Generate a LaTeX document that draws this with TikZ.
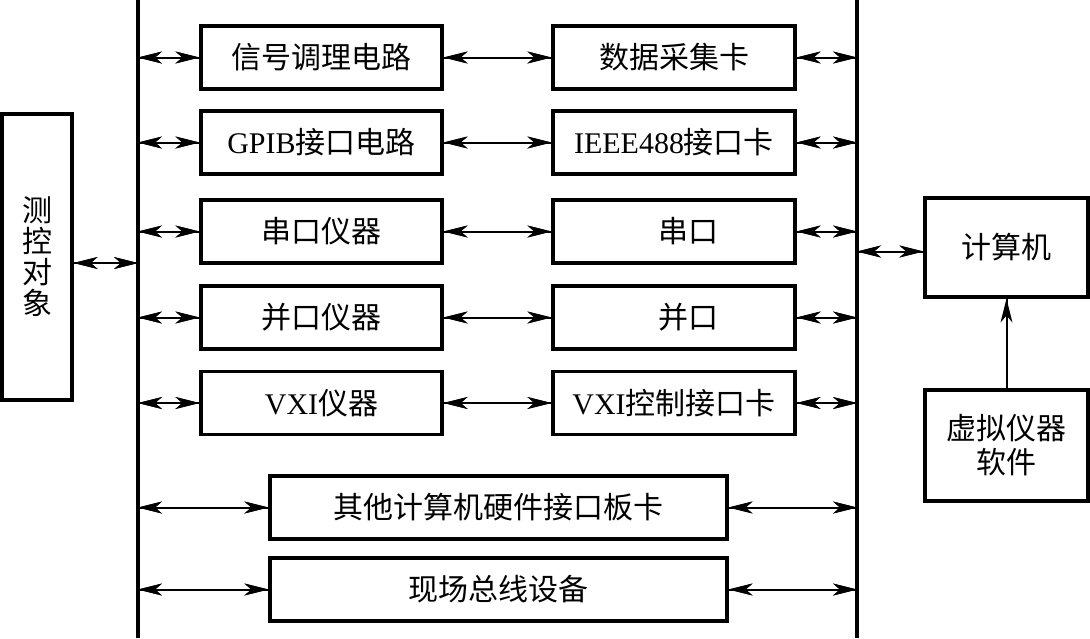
\documentclass[tikz,border=0pt]{standalone}
\usepackage{fontspec}
\setmainfont{Liberation Serif}
\newfontfamily\cjk{Noto Sans CJK SC}
\usetikzlibrary{decorations.markings}
\tikzset{
  headstart/.style={decoration={markings, mark=at position 0 with {\fill (0pt,0pt) -- (24pt,6pt) -- (17pt,0pt) -- (24pt,-6pt) -- cycle;}}, postaction={decorate}},
  headend/.style={decoration={markings, mark=at position 1 with {\fill (0pt,0pt) -- (-24pt,6pt) -- (-17pt,0pt) -- (-24pt,-6pt) -- cycle;}}, postaction={decorate}},
}
\begin{document}
\begin{tikzpicture}[x=1pt,y=-1pt,
  box/.style={draw, line width=3.2pt, inner sep=0pt, align=center,
    font=\cjk\fontsize{30}{34}\selectfont},
  link/.style={line width=2pt, headstart, headend},
  uplink/.style={line width=2pt, headend},
  bus/.style={line width=3.2pt}]
\useasboundingbox (0,0) rectangle (1090,638);
% buses
\coordinate (LT) at (138,0); \coordinate (LB) at (138,638);
\coordinate (RT) at (857,0); \coordinate (RB) at (857,638);
\draw[bus] (LT) -- (LB);
\draw[bus] (RT) -- (RB);
% left object
\node[box, minimum width=70, minimum height=286, font=\cjk\fontsize{30}{31}\selectfont] (obj) at (37,257) {测\\控\\对\\象};
% column 1
\node[box, minimum width=241, minimum height=63] (a1) at (321.5,57.5) {信号调理电路};
\node[box, minimum width=241, minimum height=63] (a2) at (321.5,142.5) {{\rmfamily GPIB}接口电路};
\node[box, minimum width=241, minimum height=63] (a3) at (321.5,231.5) {串口仪器};
\node[box, minimum width=241, minimum height=63] (a4) at (321.5,317.5) {并口仪器};
\node[box, minimum width=241, minimum height=63] (a5) at (321.5,403) {{\rmfamily VXI}仪器};
% column 2
\node[box, minimum width=242, minimum height=63] (b1) at (674,57.5) {数据采集卡};
\node[box, minimum width=242, minimum height=63] (b2) at (674,142.5) {{\rmfamily IEEE488}接口卡};
\node[box, minimum width=242, minimum height=63] (b3) at (674,231.5) {\hspace*{28pt}串口};
\node[box, minimum width=242, minimum height=63] (b4) at (674,317.5) {\hspace*{28pt}并口};
\node[box, minimum width=242, minimum height=63] (b5) at (674,403) {{\rmfamily VXI}控制接口卡};
% wide boxes
\node[box, minimum width=457, minimum height=63] (c1) at (498.5,507.5) {其他计算机硬件接口板卡};
\node[box, minimum width=457, minimum height=63] (c2) at (498.5,589.5) {现场总线设备};
% right
\node[box, minimum width=163, minimum height=99] (pc) at (1006.5,247.5) {计算机};
\node[box, minimum width=163, minimum height=111] (sw) at (1006.5,445.5) {虚拟仪器\\软件};
% connectors
\draw[link] ([yshift=-6pt]obj.east) -- ([yshift=-6pt]obj.east -| LT);
\foreach \i in {1,...,5}{
  \draw[link] (a\i.west -| LT) -- (a\i.west);
  \draw[link] (a\i.east) -- (b\i.west);
  \draw[link] (b\i.east) -- (b\i.east -| RT);
}
\foreach \i in {1,2}{
  \draw[link] (c\i.west -| LT) -- (c\i.west);
  \draw[link] (c\i.east) -- (c\i.east -| RT);
}
\draw[link] ([yshift=-4pt]pc.west -| RT) -- ([yshift=-4pt]pc.west);
\draw[uplink] (sw.north) -- (pc.south);
\end{tikzpicture}
\end{document}
